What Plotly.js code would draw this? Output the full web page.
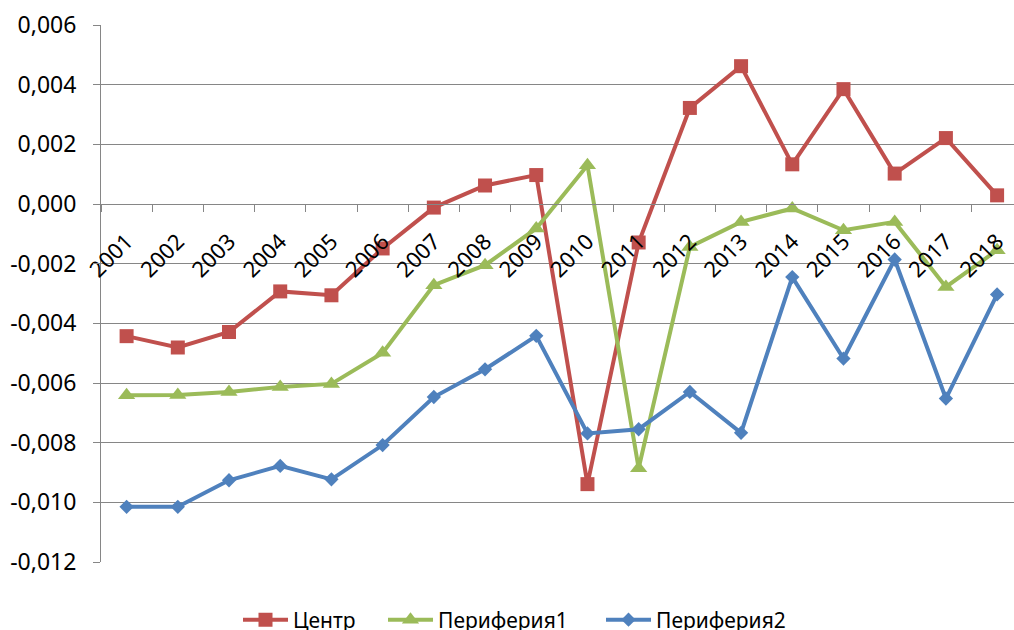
<!DOCTYPE html>
<html>
<head>
<meta charset="utf-8">
<script src="https://cdn.plot.ly/plotly-3.0.1.min.js"></script>
<style>
  html, body { margin: 0; padding: 0; background: #ffffff; }
  #chart { width: 1014px; height: 630px; }
</style>
</head>
<body>
<div id="chart"></div>
<script>
const years = ['2001','2002','2003','2004','2005','2006','2007','2008','2009','2010','2011','2012','2013','2014','2015','2016','2017','2018'];
const centr = [-0.00443,-0.00481,-0.00429,-0.00293,-0.00306,-0.00149,-0.00012,0.00062,0.00097,-0.00939,-0.00129,0.00322,0.00462,0.00133,0.00385,0.00102,0.00221,0.00029];
const periph1 = [-0.00641,-0.00640,-0.00630,-0.00613,-0.00603,-0.00499,-0.00272,-0.00205,-0.00082,0.00130,-0.00886,-0.00144,-0.00060,-0.00015,-0.00088,-0.00060,-0.00278,-0.00155];
const periph2 = [-0.01015,-0.01015,-0.00926,-0.00878,-0.00923,-0.00808,-0.00647,-0.00554,-0.00442,-0.00769,-0.00755,-0.00630,-0.00767,-0.00245,-0.00518,-0.00186,-0.00652,-0.00303];
const seriesNames = ['Центр','Периферия1','Периферия2'];
const yTickVals = [-0.012,-0.010,-0.008,-0.006,-0.004,-0.002,0,0.002,0.004,0.006];
const yTickText = ['-0,012','-0,010','-0,008','-0,006','-0,004','-0,002','0,000','0,002','0,004','0,006'];

const FONT = 'Noto Sans, Open Sans, sans-serif';
const GRID = '#868686';

const traces = [
  {x: years, y: centr, name: seriesNames[0], type: 'scatter', mode: 'lines+markers', legend: 'legend',
   line: {color: '#C0504D', width: 4}, marker: {symbol: 'square', size: 14, color: '#C0504D'}},
  {x: years, y: periph1, name: seriesNames[1], type: 'scatter', mode: 'lines+markers', legend: 'legend2',
   line: {color: '#9BBB59', width: 4}, marker: {symbol: 'triangle-up', size: 15, color: '#9BBB59'}},
  {x: years, y: periph2, name: seriesNames[2], type: 'scatter', mode: 'lines+markers', legend: 'legend3',
   line: {color: '#4F81BD', width: 4}, marker: {symbol: 'diamond', size: 11, color: '#4F81BD'}}
];

function leg(px) {
  return {orientation: 'h', x: (px - 101) / 913, xanchor: 'left', y: -0.108, yanchor: 'middle',
          itemwidth: 45,
          bgcolor: 'rgba(0,0,0,0)', font: {family: FONT, size: 21, color: '#000000'}};
}

const layout = {
  width: 1014, height: 630,
  margin: {l: 101, r: 0, t: 25, b: 68, autoexpand: false},
  paper_bgcolor: '#ffffff', plot_bgcolor: '#ffffff',
  font: {family: FONT, size: 22, color: '#000000'},
  showlegend: true,
  legend: leg(238),
  legend2: leg(383),
  legend3: leg(601),
  xaxis: {
    type: 'category', range: [-0.5, 17.33],
    anchor: 'free', position: 0.6667,
    showgrid: false, zeroline: false,
    showline: true, linecolor: GRID, linewidth: 1,
    ticks: 'outside', ticklen: 7, tickcolor: GRID, tickwidth: 1, tickson: 'boundaries',
    tickangle: -45, ticklabelstandoff: 15,
    tickfont: {family: FONT, size: 22, color: '#000000'}
  },
  yaxis: {
    range: [-0.012, 0.006], domain: [0, 1],
    tickvals: yTickVals, ticktext: yTickText,
    showgrid: true, gridcolor: GRID, gridwidth: 1,
    zeroline: false,
    showline: true, linecolor: GRID, linewidth: 1,
    ticks: 'outside', ticklen: 7, tickcolor: GRID, tickwidth: 1,
    ticklabelstandoff: 12,
    tickfont: {family: FONT, size: 23, color: '#000000'}
  }
};

Plotly.newPlot('chart', traces, layout, {displayModeBar: false, staticPlot: true});
</script>
</body>
</html>
